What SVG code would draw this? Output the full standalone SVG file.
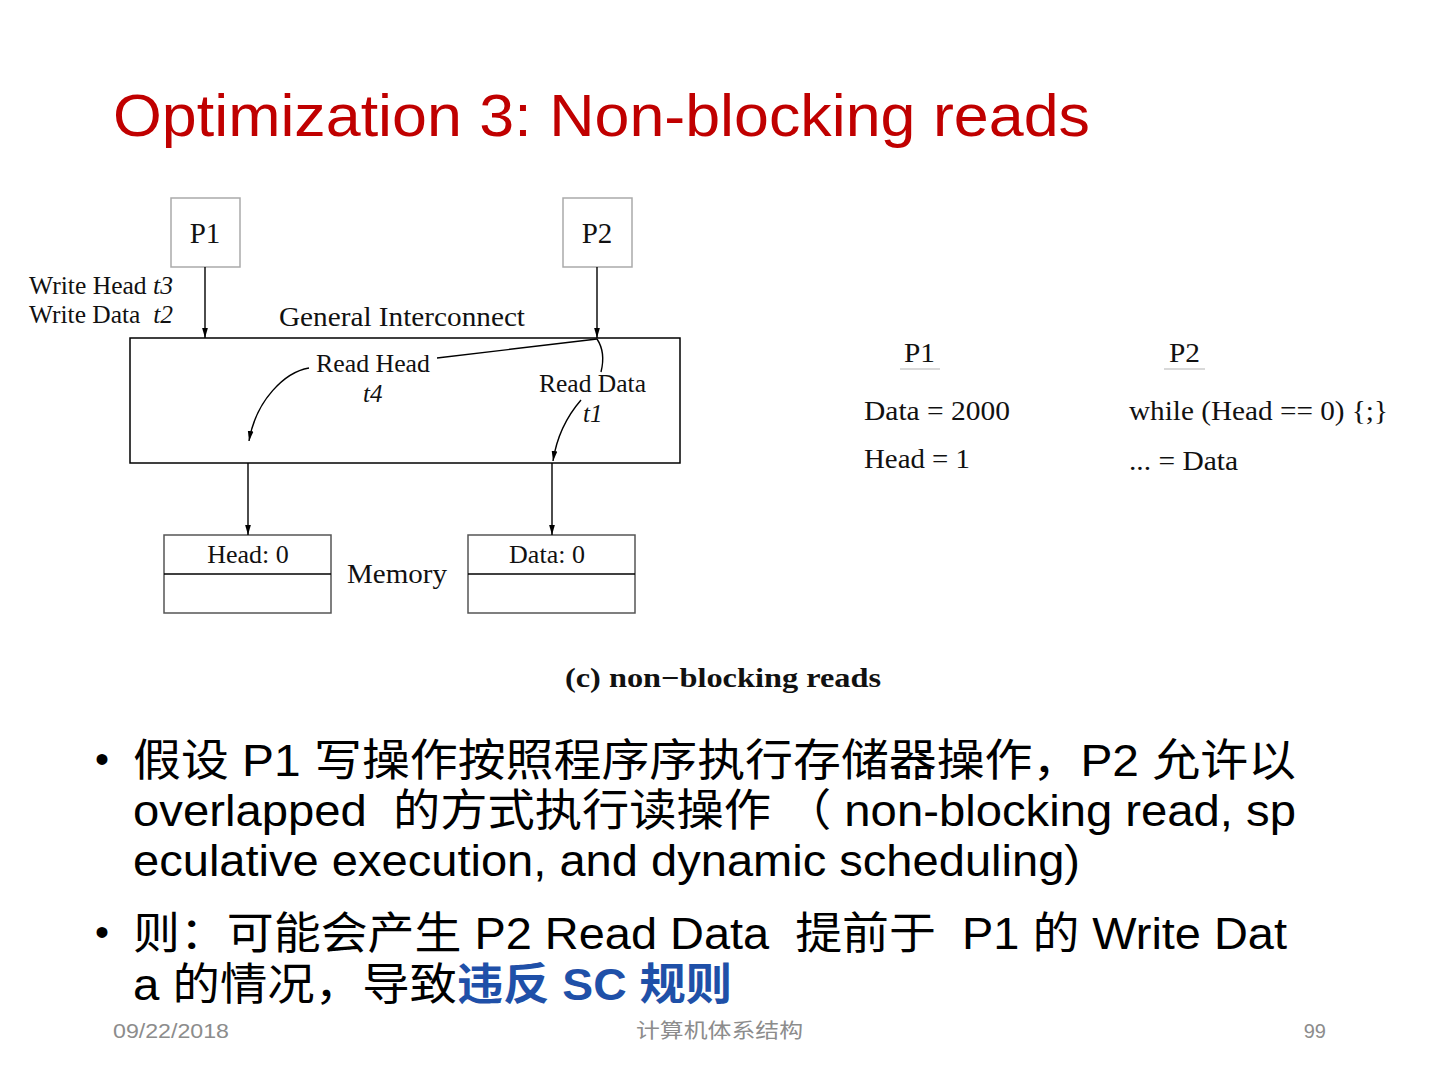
<svg xmlns="http://www.w3.org/2000/svg" width="1440" height="1080" viewBox="0 0 1440 1080">
<defs>
<marker id="ah" markerUnits="userSpaceOnUse" markerWidth="10" markerHeight="16" refX="14" refY="4" orient="auto" viewBox="0 0 14 8">
<path d="M0,0 L14,4 L0,8 Z" fill="#000"/>
</marker>
<style>
.serif{font-family:"Liberation Serif","Times New Roman",serif;fill:#111}
.it{font-style:italic}
.sans{font-family:"Liberation Sans","Noto Sans CJK SC",sans-serif;fill:#000;white-space:pre}
.foot{font-family:"Liberation Sans","Noto Sans CJK SC",sans-serif;fill:#8c8c8c;font-size:20px}
.conn{fill:none;stroke:#000;stroke-width:1.4}
.pbox{fill:#fff;stroke:#aaa;stroke-width:1.5}
.mbox{fill:#fff;stroke:#555;stroke-width:1.5}
</style>
</defs>
<rect width="1440" height="1080" fill="#fff"/>

<text id="title" x="113" y="136" font-family="'Liberation Sans',Arial,sans-serif" font-size="60" fill="#C00000" textLength="977" lengthAdjust="spacingAndGlyphs">Optimization 3: Non-blocking reads</text>

<g id="p1">
<rect class="pbox" x="171" y="198" width="69" height="69"/>
<text class="serif" x="205" y="243" font-size="29" text-anchor="middle">P1</text>
</g>
<g id="p2">
<rect class="pbox" x="563" y="198" width="69" height="69"/>
<text class="serif" x="597" y="243" font-size="29" text-anchor="middle">P2</text>
</g>
<g id="writes">
<text class="serif" x="29" y="294" font-size="26" textLength="144" lengthAdjust="spacingAndGlyphs">Write Head <tspan class="it">t3</tspan></text>
<text class="serif" x="29" y="323" font-size="26" textLength="144" lengthAdjust="spacingAndGlyphs" style="white-space:pre">Write Data  <tspan class="it">t2</tspan></text>
</g>
<g id="interconnect">
<rect x="130" y="338" width="550" height="125" fill="none" stroke="#000" stroke-width="1.5"/>
<text class="serif" x="279" y="326" font-size="27" textLength="246" lengthAdjust="spacingAndGlyphs">General Interconnect</text>
<text class="serif" x="316" y="372" font-size="25" textLength="114" lengthAdjust="spacingAndGlyphs">Read Head</text>
<text class="serif it" x="363" y="402" font-size="25">t4</text>
<text class="serif" x="539" y="392" font-size="25" textLength="107" lengthAdjust="spacingAndGlyphs">Read Data</text>
<text class="serif it" x="583" y="422" font-size="25">t1</text>
</g>
<g id="mem-head">
<rect class="mbox" x="164" y="535" width="167" height="78"/>
<line x1="164" y1="574" x2="331" y2="574" stroke="#000" stroke-width="1.6"/>
<text class="serif" x="248" y="563" font-size="26" text-anchor="middle">Head: 0</text>
</g>
<text id="memory" class="serif" x="347" y="583" font-size="27" textLength="100" lengthAdjust="spacingAndGlyphs">Memory</text>
<g id="mem-data">
<rect class="mbox" x="468" y="535" width="167" height="78"/>
<line x1="468" y1="574" x2="635" y2="574" stroke="#000" stroke-width="1.6"/>
<text class="serif" x="547" y="563" font-size="26" text-anchor="middle">Data: 0</text>
</g>

<g id="connectors">
<line class="conn" x1="205" y1="267" x2="205" y2="338" marker-end="url(#ah)"/>
<line class="conn" x1="597" y1="267" x2="597" y2="338" marker-end="url(#ah)"/>
<line class="conn" x1="597" y1="339" x2="437" y2="358"/>
<path class="conn" d="M309,368 C285,372 256,400 249,441" marker-end="url(#ah)"/>
<path class="conn" d="M597,339 C603,348 604,360 601,372"/>
<path class="conn" d="M581,400 C568,415 557,435 553,461" marker-end="url(#ah)"/>
<line class="conn" x1="248" y1="463" x2="248" y2="535" marker-end="url(#ah)"/>
<line class="conn" x1="552" y1="463" x2="552" y2="535" marker-end="url(#ah)"/>
</g>

<text id="caption" class="serif" x="565" y="687" font-size="27" font-weight="bold" textLength="316" lengthAdjust="spacingAndGlyphs">(c) non−blocking reads</text>

<g id="code">
<text class="serif" x="904" y="362" font-size="27" textLength="31" lengthAdjust="spacingAndGlyphs">P1</text>
<line x1="900" y1="369" x2="940" y2="369" stroke="#ccc" stroke-width="1.5"/>
<text class="serif" x="1169" y="362" font-size="27" textLength="31" lengthAdjust="spacingAndGlyphs">P2</text>
<line x1="1164" y1="369" x2="1205" y2="369" stroke="#ccc" stroke-width="1.5"/>
<text class="serif" x="864" y="420" font-size="27" textLength="146" lengthAdjust="spacingAndGlyphs">Data = 2000</text>
<text class="serif" x="864" y="468" font-size="27" textLength="106" lengthAdjust="spacingAndGlyphs">Head = 1</text>
<text class="serif" x="1129" y="420" font-size="27" textLength="259" lengthAdjust="spacingAndGlyphs">while (Head == 0) {;}</text>
<text class="serif" x="1129" y="470" font-size="27" textLength="109" lengthAdjust="spacingAndGlyphs">... = Data</text>
</g>

<g id="bullets">
<text class="sans" x="95" y="773" font-size="40">•</text>
<text class="sans" x="133" y="776" font-size="44" textLength="1163" lengthAdjust="spacingAndGlyphs">假设 P1 写操作按照程序序执行存储器操作，P2 允许以</text>
<text class="sans" x="133" y="826" font-size="44" textLength="1163" lengthAdjust="spacingAndGlyphs">overlapped  的方式执行读操作 （ non-blocking read, sp</text>
<text class="sans" x="133" y="876" font-size="44" textLength="947" lengthAdjust="spacingAndGlyphs">eculative execution, and dynamic scheduling)</text>
<text class="sans" x="95" y="946" font-size="40">•</text>
<text class="sans" x="133" y="949" font-size="44" textLength="1154" lengthAdjust="spacingAndGlyphs">则：可能会产生 P2 Read Data  提前于  P1 的 Write Dat</text>
<text class="sans" x="133" y="1000" font-size="44" textLength="324" lengthAdjust="spacingAndGlyphs">a 的情况，导致</text>
<text class="sans" x="457" y="1000" font-size="44" font-weight="bold" style="fill:#1F50A8" textLength="275" lengthAdjust="spacingAndGlyphs">违反 SC 规则</text>
</g>

<g id="footer">
<text class="foot" x="113" y="1038" textLength="116" lengthAdjust="spacingAndGlyphs">09/22/2018</text>
<text class="foot" x="636" y="1038" textLength="167" lengthAdjust="spacingAndGlyphs">计算机体系结构</text>
<text class="foot" x="1326" y="1038" text-anchor="end">99</text>
</g>
</svg>
